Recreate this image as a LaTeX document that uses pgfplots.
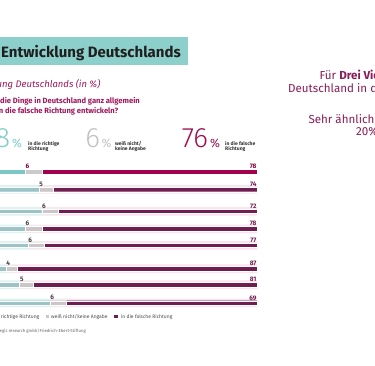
\documentclass[border=0pt]{standalone}
\usepackage{pgfplots}
\pgfplotsset{compat=1.18}
\usepackage{pgfplotstable}
\usepackage{fontspec}
\setmainfont{Fira Sans}
\newfontfamily\lightfont{Fira Sans}[UprightFont={* Light}]
\definecolor{tealA}{HTML}{7CC7C3}
\definecolor{tealB}{HTML}{9CC4C6}
\definecolor{greyA}{HTML}{CBCBCB}
\definecolor{greyB}{HTML}{CCC6C9}
\definecolor{magA}{HTML}{A3004F}
\definecolor{plum}{HTML}{6E1F50}
\definecolor{bandT}{HTML}{DDF2F1}
\definecolor{bandG}{HTML}{F1EBEE}
\definecolor{bandP}{HTML}{FCE3EF}
\definecolor{titlebox}{HTML}{8DCFCA}
\definecolor{magtext}{HTML}{A0175C}
\definecolor{righttext}{HTML}{8A1C55}
\definecolor{bignumT}{HTML}{7ECFC9}
\definecolor{bignumG}{HTML}{C2C2C2}
\definecolor{bignumM}{HTML}{A0124F}
\definecolor{lbl}{HTML}{4E4048}

\pgfplotstableread{
y teal grey purple
194.3 16 6 78
}\rowone
\pgfplotstableread{
y teal grey purple
176.5 21 5 74
154.7 22 6 72
137.2 16 6 78
120.7 17 6 77
97.3 9 4 87
81.3 14 5 81
63.0 25 6 69
}\rowsrest

\pgfplotsset{barax/.style={scale only axis, width=276pt, height=150pt,
  xmin=0, xmax=100, ymin=56, ymax=206, hide axis, xbar stacked, clip=false,
  at={(-19pt,56pt)}, anchor=south west}}
\tikzset{vl/.style={inner sep=0.3pt, font=\fontsize{6.5}{6.5}\selectfont\bfseries}}

\begin{document}
\begin{tikzpicture}
\fill[white] (0pt,0pt) rectangle (375pt,366pt);
\clip (0pt,0pt) rectangle (375pt,366pt);

% title
\fill[titlebox] (-5pt,329pt) rectangle (188pt,301pt);
\node[anchor=base west, inner sep=0pt, font=\fontsize{15}{15}\selectfont\bfseries, text=black!88] at (1pt,308.5pt) {Entwicklung Deutschlands};
\node[anchor=base east, inner sep=0pt, font=\fontsize{9.5}{9.5}\selectfont\itshape, text=magtext] at (100.5pt,278.7pt) {Einschätzung der Entwicklung Deutschlands (in \%)};
\node[anchor=base east, inner sep=0pt, font=\fontsize{7.6}{7.6}\selectfont\bfseries, text=magtext] at (140pt,262.5pt) {Glauben Sie, dass sich die Dinge in Deutschland ganz allgemein};
\node[anchor=base east, inner sep=0pt, font=\fontsize{7.6}{7.6}\selectfont\bfseries, text=magtext] at (118.5pt,252pt) {eher in die richtige oder in die falsche Richtung entwickeln?};

% big numbers
\node[anchor=base east, inner sep=0pt, font=\fontsize{28}{28}\selectfont\lightfont, text=bignumT] at (10.5pt,218pt) {18};
\node[anchor=base west, inner sep=0pt, font=\fontsize{12}{12}\selectfont, text=bignumT] at (12pt,218pt) {\%};
\node[anchor=base west, inner sep=0pt, font=\fontsize{5}{5}\selectfont\bfseries, text=black!80] at (28pt,220.5pt) {in die richtige};
\node[anchor=base west, inner sep=0pt, font=\fontsize{5}{5}\selectfont\bfseries, text=black!80] at (28pt,215.5pt) {Richtung};

\node[anchor=base east, inner sep=0pt, font=\fontsize{28}{28}\selectfont\lightfont, text=bignumG] at (100.3pt,218pt) {6};
\node[anchor=base west, inner sep=0pt, font=\fontsize{12}{12}\selectfont, text=bignumG] at (101.5pt,218pt) {\%};
\node[anchor=base west, inner sep=0pt, font=\fontsize{5}{5}\selectfont\bfseries, text=black!80] at (115pt,220.5pt) {weiß nicht/};
\node[anchor=base west, inner sep=0pt, font=\fontsize{5}{5}\selectfont\bfseries, text=black!80] at (115pt,215.5pt) {keine Angabe};

\node[anchor=base east, inner sep=0pt, font=\fontsize{28}{28}\selectfont\lightfont, text=bignumM] at (208.3pt,218pt) {76};
\node[anchor=base west, inner sep=0pt, font=\fontsize{12}{12}\selectfont, text=bignumM] at (210pt,218pt) {\%};
\node[anchor=base west, inner sep=0pt, font=\fontsize{5}{5}\selectfont\bfseries, text=black!80] at (225pt,220.5pt) {in die falsche};
\node[anchor=base west, inner sep=0pt, font=\fontsize{5}{5}\selectfont\bfseries, text=black!80] at (225pt,215.5pt) {Richtung};

% background bands
\begin{axis}[barax, bar width=8.5pt]
\addplot[fill=bandT, draw=none] table[y=y, x=teal] {\rowsrest};
\addplot[fill=bandG, draw=none] table[y=y, x=grey] {\rowsrest};
\addplot[fill=bandP, draw=none] table[y=y, x=purple] {\rowsrest};
\end{axis}

% rows 2-8
\begin{axis}[barax, bar width=4.5pt]
\addplot[fill=tealB, draw=white, line width=0.4pt] table[y=y, x=teal] {\rowsrest};
\addplot[fill=greyB, draw=white, line width=0.4pt] table[y=y, x=grey] {\rowsrest};
\addplot[fill=plum, draw=white, line width=0.4pt] table[y=y, x=purple] {\rowsrest};
\node[vl, anchor=south west, text=lbl] at (axis cs:21,179) {5};
\node[vl, anchor=south west, text=lbl] at (axis cs:22,157.2) {6};
\node[vl, anchor=south west, text=lbl] at (axis cs:16,139.7) {6};
\node[vl, anchor=south west, text=lbl] at (axis cs:17,123.2) {6};
\node[vl, anchor=south west, text=lbl] at (axis cs:9,99.8) {4};
\node[vl, anchor=south west, text=lbl] at (axis cs:14,83.8) {5};
\node[vl, anchor=south west, text=lbl] at (axis cs:25,65.5) {6};
\node[vl, anchor=south east, text=plum] at (axis cs:100,178.8) {74};
\node[vl, anchor=south east, text=plum] at (axis cs:100,157) {72};
\node[vl, anchor=south east, text=plum] at (axis cs:100,139.5) {78};
\node[vl, anchor=south east, text=plum] at (axis cs:100,123) {77};
\node[vl, anchor=south east, text=plum] at (axis cs:100,99.6) {87};
\node[vl, anchor=south east, text=plum] at (axis cs:100,83.6) {81};
\node[vl, anchor=south east, text=plum] at (axis cs:100,65.3) {69};
\end{axis}

% row 1
\begin{axis}[barax, bar width=4.5pt]
\addplot[fill=tealA, draw=white, line width=0.4pt] table[y=y, x=teal] {\rowone};
\addplot[fill=greyA, draw=white, line width=0.4pt] table[y=y, x=grey] {\rowone};
\addplot[fill=magA, draw=white, line width=0.4pt] table[y=y, x=purple] {\rowone};
\node[vl, anchor=south west, text=magA!80!black] at (axis cs:16,196.8) {6};
\node[vl, anchor=south east, text=magA!80!black] at (axis cs:100,196.6) {78};
\end{axis}

% legend
\node[anchor=base east, inner sep=0pt, font=\fontsize{5}{5}\selectfont, text=black!70] at (39.5pt,47.2pt) {in die richtige Richtung};
\fill[greyB] (45.7pt,47.5pt) rectangle (48.7pt,50.5pt);
\node[anchor=base west, inner sep=0pt, font=\fontsize{5}{5}\selectfont, text=black!70] at (51pt,47.2pt) {weiß nicht/keine Angabe};
\fill[plum] (114.3pt,47.5pt) rectangle (117.6pt,50.5pt);
\node[anchor=base west, inner sep=0pt, font=\fontsize{5}{5}\selectfont, text=black!70] at (120.7pt,47.2pt) {in die falsche Richtung};

% source
\node[anchor=base east, inner sep=0pt, font=\fontsize{4.3}{4.3}\selectfont, text=black!60] at (86pt,33.8pt) {Quelle: pollytix strategic research gmbh/Friedrich-Ebert-Stiftung};

% right text
\node[anchor=base west, inner sep=0pt, font=\fontsize{11.6}{11.6}\selectfont, text=righttext] at (319.5pt,286pt) {Für \textbf{Drei Viertel}};
\node[anchor=base west, inner sep=0pt, font=\fontsize{11.6}{11.6}\selectfont, text=righttext] at (288pt,273.3pt) {Deutschland in die falsche Richtung};
\node[anchor=base west, inner sep=0pt, font=\fontsize{11.6}{11.6}\selectfont, text=righttext] at (308.3pt,242.7pt) {Sehr ähnlich wie};
\node[anchor=base west, inner sep=0pt, font=\fontsize{11.6}{11.6}\selectfont, text=righttext] at (356pt,230pt) {20\%};
\end{tikzpicture}
\end{document}
